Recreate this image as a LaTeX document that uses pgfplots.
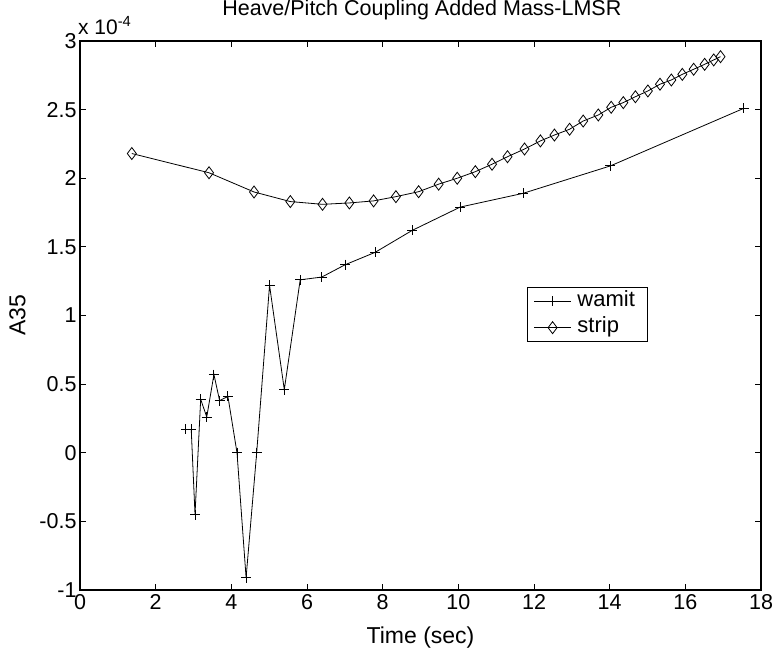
\documentclass[border=0pt]{standalone}
\usepackage{pgfplots}
\usepackage{pgfplotstable}
\pgfplotsset{compat=1.18}
\usepackage{fontspec}
\setmainfont{Liberation Sans}

% A35 in units of 1e-4
\pgfplotstableread{
t a35
2.80 0.17
2.94 0.17
3.04 -0.45
3.19 0.39
3.35 0.26
3.54 0.57
3.69 0.38
3.91 0.41
4.15 0.00
4.39 -0.91
4.67 0.00
5.01 1.22
5.40 0.46
5.82 1.26
6.39 1.28
7.01 1.37
7.80 1.46
8.78 1.62
10.05 1.79
11.71 1.89
14.02 2.09
17.55 2.51
}\wamit

\pgfplotstableread{
t a35
1.37 2.18
3.41 2.04
4.60 1.90
5.56 1.83
6.41 1.81
7.12 1.82
7.76 1.835
8.35 1.866
8.95 1.902
9.48 1.957
9.97 2.00
10.45 2.048
10.89 2.102
11.30 2.157
11.75 2.213
12.17 2.272
12.54 2.315
12.94 2.357
13.30 2.417
13.70 2.461
14.04 2.517
14.36 2.551
14.68 2.594
15.01 2.636
15.33 2.685
15.63 2.716
15.92 2.757
16.22 2.794
16.51 2.830
16.75 2.862
16.93 2.886
}\strip

\begin{document}
\begin{tikzpicture}
\path[use as bounding box] (-80bp,-65bp) rectangle (695bp,590bp);
\begin{axis}[
  scale only axis,
  width=681bp, height=549bp,
  xmin=0, xmax=18, ymin=-1, ymax=3,
  xtick={0,2,4,6,8,10,12,14,16,18},
  ytick={-1,-0.5,0,0.5,1,1.5,2,2.5,3},
  yticklabels={-1,-0.5,0,0.5,1,1.5,2,2.5,3},
  tick align=inside,
  major tick length=6bp,
  axis line style={line width=1.3bp},
  every tick/.style={black, line width=0.8bp},
  /pgf/number format/assume math mode=true,
  ticklabel style={font=\fontsize{21.5bp}{25bp}\selectfont},
  xticklabel style={yshift=-1bp},
  xlabel={Time (sec)},
  ylabel={A35},
  xlabel style={font=\fontsize{23bp}{27bp}\selectfont, at={(axis description cs:0.5,-0.086)}, anchor=center},
  ylabel style={font=\fontsize{23bp}{27bp}\selectfont, at={(axis description cs:-0.092,0.5)}, anchor=center},
  clip=false,
  legend style={
    at={(0.656,0.552)}, anchor=north west,
    font=\fontsize{22bp}{25bp}\selectfont,
    draw=black, line width=0.9bp,
    inner xsep=6.5bp, inner ysep=0.5bp,
    row sep=0bp,
    nodes={inner xsep=6bp, inner ysep=3bp, text height=15.5bp, text depth=5bp},
    cells={anchor=west},
  },
  legend image code/.code={
    \draw[mark repeat=2, mark phase=2] plot coordinates {(0bp,0bp) (18.5bp,0bp) (37bp,0bp)};
  },
]
\addplot[black, line width=0.8bp, mark=+, mark size=5bp, mark options={line width=1bp}] table {\wamit};
\addlegendentry{wamit}
\addplot[black, line width=0.8bp, mark=diamond, mark size=6bp, mark options={line width=0.8bp}] table {\strip};
\addlegendentry{strip}
% plot title
\node[anchor=center, inner sep=0pt, font=\fontsize{21.5bp}{25bp}\selectfont]
  at (axis description cs:0.502,1.056) {Heave/Pitch Coupling Added Mass-LMSR};
% exponent of the y axis
\node[anchor=south west, inner sep=0pt, font=\fontsize{21bp}{24bp}\selectfont]
  at (axis description cs:-0.003,1.012) {x 10\textsuperscript{-4}};
\end{axis}
\end{tikzpicture}
\end{document}
